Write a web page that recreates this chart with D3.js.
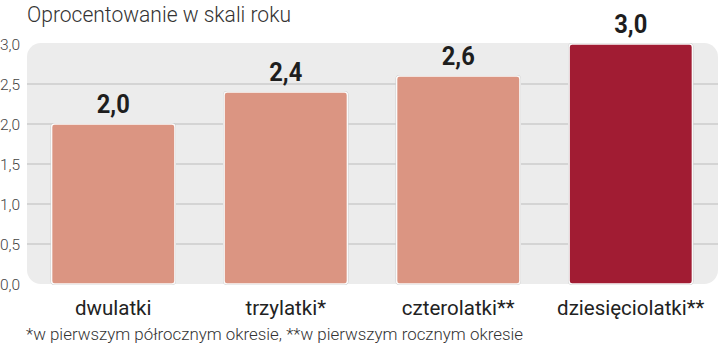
<!DOCTYPE html>
<html><head><meta charset="utf-8">
<script src="https://cdn.jsdelivr.net/npm/d3@7"></script>
<style>body{margin:0;background:#fff}svg{display:block}</style>
</head><body>
<script>
const categories = ["dwulatki","trzylatki*","czterolatki**","dziesięciolatki**"];
const values = [2.0, 2.4, 2.6, 3.0];
const valueLabels = ["2,0","2,4","2,6","3,0"];
const yTicks = [0,0.5,1.0,1.5,2.0,2.5,3.0];
const title = "Oprocentowanie w skali roku";
const footnote = "*w pierwszym półrocznym okresie, **w pierwszym rocznym okresie";
const colors = ["#db9582","#db9582","#db9582","#a11c33"];

const W=721,H=347;
const svg=d3.select("body").append("svg").attr("width",W).attr("height",H);
const x=d3.scaleBand().domain(categories).range([27,717]);
const y=d3.scaleLinear().domain([0,3]).range([284,44]);

// background panel
svg.append("rect").attr("x",27).attr("y",y(3)-1).attr("width",691).attr("height",y(0)-y(3)+1)
  .attr("rx",14).attr("fill","#ececec");

// gridlines
svg.selectAll("line.g").data(yTicks.filter(d=>d>0&&d<3)).join("line")
  .attr("x1",27).attr("x2",718).attr("y1",d=>y(d)).attr("y2",d=>y(d))
  .attr("stroke","#cdcdcd").attr("stroke-width",1.3);

// y tick labels
svg.selectAll("text.yt").data(yTicks).join("text")
  .attr("x",0).attr("y",d=>y(d)+5.5)
  .attr("font-family","Roboto").attr("font-weight",300).attr("font-size",15.5)
  .attr("fill","#444").text(d=>d3.format(".1f")(d).replace(".",","));

const bw=x.bandwidth()*0.715;
// bar shadows
svg.selectAll("rect.s").data(values).join("rect")
  .attr("x",(d,i)=>x(categories[i])+x.bandwidth()/2-bw/2-1)
  .attr("y",d=>y(d)-1).attr("width",bw+2).attr("height",d=>y(0)-y(d)+2)
  .attr("rx",4).attr("fill","#bdbdbd");
svg.selectAll("rect.b").data(values).join("rect")
  .attr("x",(d,i)=>x(categories[i])+x.bandwidth()/2-bw/2)
  .attr("y",d=>y(d)).attr("width",bw).attr("height",d=>y(0)-y(d))
  .attr("rx",3).attr("fill",(d,i)=>colors[i]).attr("stroke","#fafafa").attr("stroke-width",1.5);

// value labels
svg.selectAll("text.v").data(values).join("text")
  .attr("x",(d,i)=>x(categories[i])+x.bandwidth()/2).attr("y",d=>y(d)-11)
  .attr("text-anchor","middle").attr("font-family","Roboto").attr("font-weight",700)
  .attr("font-size",26).attr("fill","#1e1e1e")
  .attr("textLength",33).attr("lengthAdjust","spacingAndGlyphs").text((d,i)=>valueLabels[i]);

// category labels
svg.selectAll("text.c").data(categories).join("text")
  .attr("x",d=>x(d)+x.bandwidth()/2).attr("y",315)
  .attr("text-anchor","middle").attr("font-family","Roboto").attr("font-weight",400)
  .attr("font-size",20.5).attr("fill","#222").text(d=>d);

svg.append("text").attr("x",27).attr("y",22).attr("font-family","Roboto").attr("font-weight",300)
  .attr("font-size",22).attr("fill","#333").attr("textLength",264).attr("lengthAdjust","spacingAndGlyphs").text(title);
svg.append("text").attr("x",26).attr("y",340).attr("font-family","Roboto").attr("font-weight",300)
  .attr("font-size",16.5).attr("fill","#333").attr("textLength",497).attr("lengthAdjust","spacingAndGlyphs").text(footnote);
</script>
</body></html>
